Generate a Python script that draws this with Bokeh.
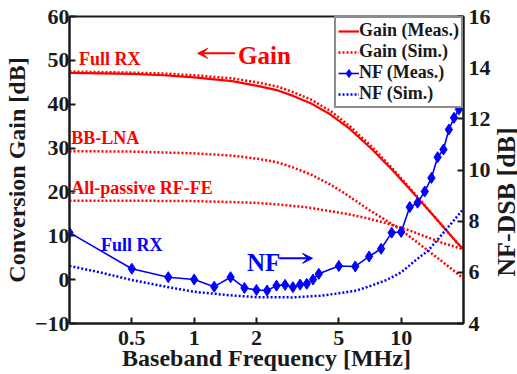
import math
from bokeh.plotting import figure
from bokeh.layouts import row
from bokeh.core.properties import value
from bokeh.models import (Range1d, LinearAxis, FixedTicker, Label, Arrow, VeeHead,
                          Legend, LegendItem, CustomJSTickFormatter)
from bokeh.embed import file_html
from bokeh.resources import INLINE

# ---- data ----
gain_meas_f = [0.25, 0.5, 0.71, 1.0, 1.525, 2.0, 2.54, 3.03, 3.65, 4.54, 5.65, 7.18, 9.06, 12.13, 15.09, 18.78, 20.0]
gain_meas = [47.13, 46.9, 46.6, 46.12, 45.28, 44.23, 43.14, 41.84, 40.24, 37.71, 34.36, 29.85, 25.01, 18.42, 13.38, 8.21, 6.95]
gain_sim_full = [47.45, 47.2, 47.0, 46.6, 45.9, 45.0, 44.0, 42.7, 41.1, 38.5, 35.0, 30.4, 25.4, 18.6, 13.4, 8.2, 6.95]

bblna_f = [0.25, 0.5, 1.0, 1.5, 2.0, 2.5, 3.0, 3.65, 4.5, 5.25, 7.0, 8.73, 10.0, 13.5, 16.0, 20.0]
bblna = [29.3, 29.2, 28.8, 28.3, 27.6, 26.8, 25.6, 24.0, 21.8, 19.9, 15.9, 13.1, 11.3, 6.6, 3.9, 0.3]

passive_f = [0.25, 0.5, 1.0, 1.5, 2.0, 2.6, 3.5, 5.45, 7.0, 8.73, 11.0, 13.5, 16.0, 20.0]
passive = [18.0, 18.0, 17.9, 17.7, 17.5, 17.1, 16.5, 15.0, 13.9, 12.7, 11.2, 9.6, 8.3, 6.9]

nf_meas_f = [0.25, 0.5, 0.75, 1.0, 1.25, 1.5, 1.75, 2.0, 2.25, 2.5, 2.75, 3.0, 3.25, 3.5, 3.75, 4.0,
             5.0, 6.0, 7.0, 8.0, 9.0, 10.0, 11.0, 12.0, 13.0, 14.0, 15.0, 16.0, 17.0, 18.0, 19.0]
nf_meas = [7.55, 6.14, 5.81, 5.72, 5.44, 5.81, 5.39, 5.31, 5.29, 5.48, 5.51, 5.42, 5.52, 5.55, 5.72, 5.94,
           6.25, 6.23, 6.62, 6.92, 7.55, 7.58, 8.55, 8.72, 9.16, 9.69, 10.5, 10.8, 11.58, 12.04, 12.37]

nf_sim_f = [0.25, 0.35, 0.5, 0.75, 1.0, 1.5, 2.0, 3.0, 4.0, 5.0, 6.1, 7.0, 8.5, 10.0, 11.7, 13.5, 15.1, 17.0, 19.4, 20.0]
nf_sim = [6.25, 6.0, 5.7, 5.42, 5.24, 5.1, 5.03, 5.02, 5.08, 5.18, 5.29, 5.45, 5.7, 6.0, 6.46, 6.85, 7.31, 7.8, 8.35, 8.5]

x_ticks = [0.5, 1, 2, 5, 10]
gain_ticks = [-10, 0, 10, 20, 30, 40, 50, 60]
nf_ticks = [4, 6, 8, 10, 12, 14, 16]
right_title = "NF-DSB [dB]"

FONT = "Liberation Serif"
RED = "#ff0000"
BLUE = "#0000ff"
INK = "#1a1a1a"

p = figure(width=493, height=374, x_axis_type="log",
           x_range=Range1d(0.25, 20), y_range=Range1d(-10, 60),
           output_backend="svg", toolbar_location=None,
           min_border_left=63, min_border_right=28, min_border_top=16, min_border_bottom=51)
p.extra_y_ranges = {"nf": Range1d(4, 16)}
p.grid.visible = False
p.outline_line_color = INK
p.outline_line_width = 2
p.background_fill_color = "white"
p.border_fill_color = "white"

def style_axis(ax, label):
    ax.axis_label = label
    ax.axis_label_text_font = FONT
    ax.axis_label_text_font_style = "bold"
    ax.axis_label_text_font_size = "24px"
    ax.axis_label_text_color = INK
    ax.major_label_text_font = FONT
    ax.major_label_text_font_style = "bold"
    ax.major_label_text_font_size = "22px"
    ax.major_label_text_color = INK
    ax.axis_line_width = 2
    ax.axis_line_color = INK
    ax.major_tick_in = 6
    ax.major_tick_out = 0
    ax.major_tick_line_width = 2
    ax.major_tick_line_color = INK
    ax.minor_tick_line_color = None
    ax.major_label_standoff = 0
    ax.axis_label_standoff = 2

xa = p.below[0]
style_axis(xa, "Baseband Frequency [MHz]")
xa.ticker = FixedTicker(ticks=x_ticks, minor_ticks=[])
xa.formatter = CustomJSTickFormatter(code="return String(tick);")
xa.major_label_standoff = 7
xa.axis_label_standoff = -3

ya = p.left[0]
style_axis(ya, "Conversion Gain [dB]")
ya.ticker = FixedTicker(ticks=gain_ticks)

yr = LinearAxis(y_range_name="nf")
style_axis(yr, None)
yr.ticker = FixedTicker(ticks=nf_ticks)
yr.major_label_standoff = 5
p.add_layout(yr, "right")

# ---- curves ----
r_bb = p.line(bblna_f, bblna, color=RED, line_width=2.5, line_dash="2 2")
r_pa = p.line(passive_f, passive, color=RED, line_width=2.5, line_dash="2 2")
r_gs = p.line(gain_meas_f, gain_sim_full, color=RED, line_width=2.5, line_dash="2 2")
r_gm = p.line(gain_meas_f, gain_meas, color=RED, line_width=2.2)
r_ns = p.line(nf_sim_f, nf_sim, color=BLUE, line_width=2.5, line_dash="2 2", y_range_name="nf")
r_nm = p.line(nf_meas_f, nf_meas, color=BLUE, line_width=1.6, y_range_name="nf")
r_nmk = p.scatter(nf_meas_f, nf_meas, marker="diamond", size=11, color=BLUE, y_range_name="nf")

legend = Legend(items=[
    LegendItem(label="Gain (Meas.)", renderers=[r_gm]),
    LegendItem(label="Gain (Sim.)", renderers=[r_gs]),
    LegendItem(label="NF (Meas.)", renderers=[r_nm, r_nmk]),
    LegendItem(label="NF (Sim.)", renderers=[r_ns]),
], location="top_right")
legend.label_text_font = FONT
legend.label_text_font_style = "bold"
legend.label_text_font_size = "18px"
legend.label_text_color = INK
legend.border_line_color = INK
legend.border_line_width = 2
legend.margin = 0
legend.padding = 2
legend.spacing = 0
legend.glyph_width = 21
legend.glyph_height = 20
legend.label_height = 20
legend.label_standoff = 0
legend.background_fill_alpha = 1
p.add_layout(legend)

# ---- annotations ----
def txt(x, y, s, color, size):
    p.add_layout(Label(x=x, y=y, text=s, text_color=color, text_font=FONT,
                       text_font_style="bold", text_font_size=size,
                       text_baseline="alphabetic"))

txt(0.278, 50.4, "Full RX", RED, "18px")
txt(0.255, 32.2, "BB-LNA", RED, "18px")
txt(0.255, 20.9, "All-passive RF-FE", RED, "18px")
txt(1.63, 51.1, "Gain", RED, "25px")
txt(0.355, 7.9, "Full RX", BLUE, "18px")
txt(1.80, 4.0, "NF", BLUE, "25px")

p.add_layout(Arrow(x_start=1.576, y_start=51.6, x_end=1.04, y_end=51.6,
                   line_color=RED, line_width=2,
                   end=VeeHead(size=10, fill_color=RED, line_color=RED)))
p.add_layout(Arrow(x_start=2.576, y_start=4.86, x_end=3.73, y_end=4.86,
                   line_color=BLUE, line_width=2,
                   end=VeeHead(size=10, fill_color=BLUE, line_color=BLUE)))

# ---- narrow strip on the right holding the right-axis title (reads bottom-to-top) ----
p2 = figure(width=24, height=374, x_range=Range1d(0, 1), y_range=Range1d(0, 374),
            output_backend="svg", toolbar_location=None,
            x_axis_location=None, y_axis_location=None,
            min_border_left=0, min_border_right=0, min_border_top=0, min_border_bottom=0)
p2.grid.visible = False
p2.outline_line_color = None
p2.background_fill_color = "white"
p2.border_fill_color = "white"
p2.text(x=[0.54], y=[148], text=[right_title], angle=math.pi / 2,
        text_align="center", text_baseline="middle",
        text_font=value(FONT), text_font_style="bold", text_font_size="26px",
        text_color=INK)

layout = row(p, p2, spacing=0)
open("out.html", "w").write(file_html(layout, INLINE))
